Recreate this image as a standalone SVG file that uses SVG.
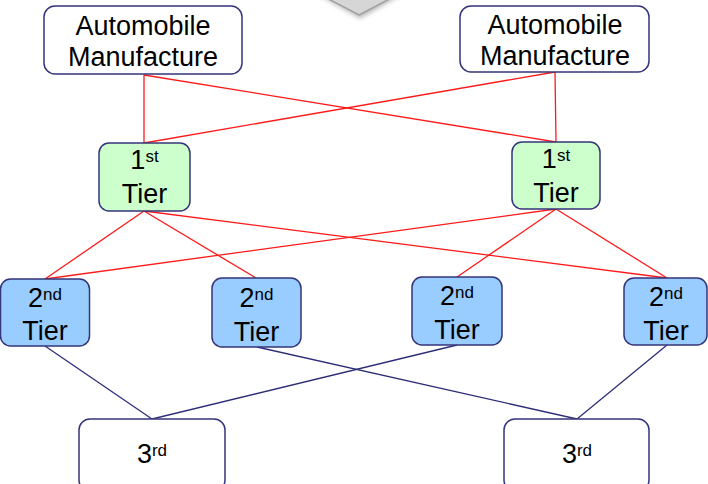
<svg xmlns="http://www.w3.org/2000/svg" width="708" height="484" viewBox="0 0 708 484">
  <style>
    .box { stroke: #34347a; stroke-width: 1.5; }
    .maker { fill: #ffffff; }
    .t1 { fill: #ccffcc; }
    .t2 { fill: #99ccff; }
    .t3 { fill: #ffffff; }
    text { font-family: "Liberation Sans", Arial, sans-serif; font-size: 27px; fill: #000000; text-anchor: middle; }
    .sup { font-size: 17px; }
    .red line { stroke: #ff1a1a; stroke-width: 1.3; }
    .navy line { stroke: #2e2e78; stroke-width: 1.3; }
  </style>
  <defs>
    <filter id="soft" x="-30%" y="-50%" width="160%" height="200%">
      <feGaussianBlur stdDeviation="2.5"/>
    </filter>
  </defs>

  <rect width="708" height="484" fill="#ffffff"/>

  <!-- down-pointing chevron at the top edge -->
  <g id="pointer">
    <polygon points="318,-6 402,-6 360,18" fill="#8c8c8c" opacity="0.7" filter="url(#soft)"/>
    <polygon points="319,-6 399,-6 359,15" fill="#d6d6d6" stroke="#a0a0a0" stroke-width="1.5"/>
  </g>

  <g id="connectors">
    <g class="red">
      <line x1="144" y1="75" x2="144" y2="143"/>
      <line x1="144" y1="75" x2="556" y2="142"/>
      <line x1="555" y1="72" x2="556" y2="142"/>
      <line x1="555" y1="72" x2="144" y2="143"/>
      <line x1="144" y1="211" x2="45" y2="279"/>
      <line x1="144" y1="211" x2="256" y2="278"/>
      <line x1="144" y1="211" x2="667" y2="278"/>
      <line x1="556" y1="209" x2="45" y2="279"/>
      <line x1="556" y1="209" x2="457" y2="277"/>
      <line x1="556" y1="209" x2="667" y2="278"/>
    </g>
    <g class="navy">
      <line x1="45" y1="346" x2="152" y2="419"/>
      <line x1="457" y1="345" x2="152" y2="419"/>
      <line x1="257" y1="347" x2="577" y2="419"/>
      <line x1="667" y1="345" x2="577" y2="419"/>
    </g>
  </g>

  <g id="maker-left">
    <rect class="box maker" x="44" y="6" width="198" height="68" rx="11"/>
    <text x="143" y="35">Automobile</text>
    <text x="143" y="66">Manufacture</text>
  </g>
  <g id="maker-right">
    <rect class="box maker" x="460" y="6" width="189" height="66" rx="11"/>
    <text x="555" y="34">Automobile</text>
    <text x="555" y="65">Manufacture</text>
  </g>

  <g id="tier1-left">
    <rect class="box t1" x="99" y="143" width="91" height="68" rx="10"/>
    <text x="144.5" y="169">1<tspan class="sup" dy="-7">st</tspan></text>
    <text x="144.5" y="203">Tier</text>
  </g>
  <g id="tier1-right">
    <rect class="box t1" x="512" y="142" width="88" height="67" rx="10"/>
    <text x="556" y="168">1<tspan class="sup" dy="-7">st</tspan></text>
    <text x="556" y="202">Tier</text>
  </g>

  <g id="tier2-a">
    <rect class="box t2" x="0.5" y="279" width="89" height="67" rx="10"/>
    <text x="45" y="307">2<tspan class="sup" dy="-7">nd</tspan></text>
    <text x="45" y="340">Tier</text>
  </g>
  <g id="tier2-b">
    <rect class="box t2" x="212" y="278" width="89" height="69" rx="10"/>
    <text x="256.5" y="307">2<tspan class="sup" dy="-7">nd</tspan></text>
    <text x="256.5" y="341">Tier</text>
  </g>
  <g id="tier2-c">
    <rect class="box t2" x="412" y="277" width="90" height="68" rx="10"/>
    <text x="457" y="305">2<tspan class="sup" dy="-7">nd</tspan></text>
    <text x="457" y="339">Tier</text>
  </g>
  <g id="tier2-d">
    <rect class="box t2" x="624" y="278" width="83" height="67" rx="10"/>
    <text x="666" y="306">2<tspan class="sup" dy="-7">nd</tspan></text>
    <text x="666" y="340">Tier</text>
  </g>

  <g id="tier3-left">
    <rect class="box t3" x="79" y="419" width="146" height="72" rx="11"/>
    <text x="152" y="463">3<tspan class="sup" dy="-7">rd</tspan></text>
  </g>
  <g id="tier3-right">
    <rect class="box t3" x="504" y="419" width="145" height="72" rx="11"/>
    <text x="577" y="463">3<tspan class="sup" dy="-7">rd</tspan></text>
  </g>
</svg>
